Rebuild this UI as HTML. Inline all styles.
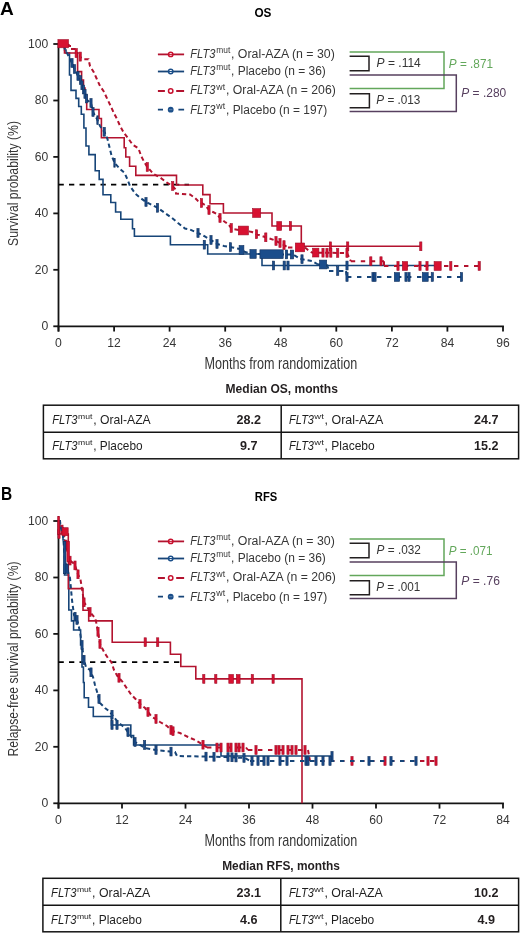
<!DOCTYPE html><html><head><meta charset="utf-8"><style>html,body{margin:0;padding:0;background:#fff;}svg{display:block;will-change:transform;}text{font-family:"Liberation Sans",sans-serif;}</style></head><body>
<svg width="520" height="933" viewBox="0 0 520 933">
<rect width="520" height="933" fill="#fff"/>
<text x="0.0" y="15.4" font-size="17.50" font-weight="bold" fill="#000" textLength="13.8" lengthAdjust="spacingAndGlyphs">A</text>
<text x="254.4" y="17.3" font-size="12.60" font-weight="bold" fill="#000" textLength="17.0" lengthAdjust="spacingAndGlyphs">OS</text>
<g stroke="#141414" stroke-width="1.8" fill="none">
<path d="M58.5,43.1 V331.6"/>
<path d="M57.6,326.3 H503.9"/>
<path d="M53.3,326.3 H58.5"/>
<path d="M53.3,269.8 H58.5"/>
<path d="M53.3,213.4 H58.5"/>
<path d="M53.3,156.9 H58.5"/>
<path d="M53.3,100.5 H58.5"/>
<path d="M53.3,44.0 H58.5"/>
<path d="M58.5,326.3 V331.6"/>
<path d="M114.1,326.3 V331.6"/>
<path d="M169.6,326.3 V331.6"/>
<path d="M225.2,326.3 V331.6"/>
<path d="M280.7,326.3 V331.6"/>
<path d="M336.3,326.3 V331.6"/>
<path d="M391.9,326.3 V331.6"/>
<path d="M447.4,326.3 V331.6"/>
<path d="M503.0,326.3 V331.6"/>
</g>
<text x="48.2" y="330.2" font-size="13.00" text-anchor="end" fill="#363636" textLength="6.8" lengthAdjust="spacingAndGlyphs">0</text>
<text x="48.2" y="273.7" font-size="13.00" text-anchor="end" fill="#363636" textLength="13.5" lengthAdjust="spacingAndGlyphs">20</text>
<text x="48.2" y="217.3" font-size="13.00" text-anchor="end" fill="#363636" textLength="13.5" lengthAdjust="spacingAndGlyphs">40</text>
<text x="48.2" y="160.8" font-size="13.00" text-anchor="end" fill="#363636" textLength="13.5" lengthAdjust="spacingAndGlyphs">60</text>
<text x="48.2" y="104.4" font-size="13.00" text-anchor="end" fill="#363636" textLength="13.5" lengthAdjust="spacingAndGlyphs">80</text>
<text x="48.2" y="47.9" font-size="13.00" text-anchor="end" fill="#363636" textLength="20.2" lengthAdjust="spacingAndGlyphs">100</text>
<text x="58.5" y="347.3" font-size="13.00" text-anchor="middle" fill="#363636" textLength="6.8" lengthAdjust="spacingAndGlyphs">0</text>
<text x="114.1" y="347.3" font-size="13.00" text-anchor="middle" fill="#363636" textLength="13.5" lengthAdjust="spacingAndGlyphs">12</text>
<text x="169.6" y="347.3" font-size="13.00" text-anchor="middle" fill="#363636" textLength="13.5" lengthAdjust="spacingAndGlyphs">24</text>
<text x="225.2" y="347.3" font-size="13.00" text-anchor="middle" fill="#363636" textLength="13.5" lengthAdjust="spacingAndGlyphs">36</text>
<text x="280.7" y="347.3" font-size="13.00" text-anchor="middle" fill="#363636" textLength="13.5" lengthAdjust="spacingAndGlyphs">48</text>
<text x="336.3" y="347.3" font-size="13.00" text-anchor="middle" fill="#363636" textLength="13.5" lengthAdjust="spacingAndGlyphs">60</text>
<text x="391.9" y="347.3" font-size="13.00" text-anchor="middle" fill="#363636" textLength="13.5" lengthAdjust="spacingAndGlyphs">72</text>
<text x="447.4" y="347.3" font-size="13.00" text-anchor="middle" fill="#363636" textLength="13.5" lengthAdjust="spacingAndGlyphs">84</text>
<text x="503.0" y="347.3" font-size="13.00" text-anchor="middle" fill="#363636" textLength="13.5" lengthAdjust="spacingAndGlyphs">96</text>
<text x="204.5" y="368.5" font-size="16.20" fill="#363636" textLength="152.7" lengthAdjust="spacingAndGlyphs">Months from randomization</text>
<text transform="translate(18,183.5) rotate(-90)" x="0" y="0" font-size="15.5" text-anchor="middle" textLength="125.0" lengthAdjust="spacingAndGlyphs" fill="#363636">Survival probability (%)</text>
<path d="M58.5,184.7H189" stroke="#000" stroke-width="1.8" stroke-dasharray="5.3 5.2"/>
<path d="M58.5,44.0H64.5V50.0H66.0V53.0H69.5V75.0H71.0V90.4H76.0V98.4H78.7V106.5H81.3V114.2H83.9V128.0H86.0V146.0H88.9V154.6H95.2V170.8H99.2V179.4H103.0V194.8H110.8V202.5H115.6V212.0H120.8V219.2H132.5V228.8H134.4V236.2H170.4V244.7H207.7V254.0H262.0V265.5H438.0" fill="none" stroke="#174578" stroke-width="1.6"/>
<rect x="203.2" y="240.3" width="2.2" height="8.8" fill="#1b4d8b" stroke="#0f2f5c" stroke-width="0.6"/>
<rect x="272.4" y="261.1" width="2.2" height="8.8" fill="#1b4d8b" stroke="#0f2f5c" stroke-width="0.6"/>
<rect x="283.1" y="261.1" width="2.2" height="8.8" fill="#1b4d8b" stroke="#0f2f5c" stroke-width="0.6"/>
<rect x="286.9" y="261.1" width="2.2" height="8.8" fill="#1b4d8b" stroke="#0f2f5c" stroke-width="0.6"/>
<rect x="345.9" y="261.1" width="2.2" height="8.8" fill="#1b4d8b" stroke="#0f2f5c" stroke-width="0.6"/>
<path d="M58.5,44.0H64.5V53.0H77.6V71.6H81.6V80.0H83.5V88.0H85.0V95.0H86.7V109.5H99.0V118.5H101.4V137.8H124.2V147.7H125.8V157.0H129.6V166.2H135.8V175.4H176.5V185.0H202.8V194.6H210.0V203.8H223.4V213.0H272.0V226.0H301.3V246.3H420.8" fill="none" stroke="#b3132f" stroke-width="1.6"/>
<rect x="252.6" y="208.6" width="8.1" height="8.8" fill="#d81131" stroke="#a00d28" stroke-width="0.6"/>
<rect x="276.8" y="221.6" width="4.9" height="8.8" fill="#d81131" stroke="#a00d28" stroke-width="0.6"/>
<rect x="289.3" y="221.6" width="2.2" height="8.8" fill="#d81131" stroke="#a00d28" stroke-width="0.6"/>
<rect x="329.3" y="241.9" width="2.2" height="8.8" fill="#d81131" stroke="#a00d28" stroke-width="0.6"/>
<rect x="346.6" y="241.9" width="2.2" height="8.8" fill="#d81131" stroke="#a00d28" stroke-width="0.6"/>
<rect x="419.7" y="241.9" width="2.2" height="8.8" fill="#d81131" stroke="#a00d28" stroke-width="0.6"/>
<path d="M58.50,44.00 L64.50,44.00 L64.50,48.00 L68.00,55.00 L72.00,63.00 L74.50,69.00 L78.00,76.00 L80.00,78.00 L81.50,84.00 L83.00,88.00 L85.00,94.00 L87.00,100.00 L91.00,103.00 L93.00,112.00 L97.00,119.00 L100.00,126.00 L104.60,132.30 L107.50,139.00 L109.20,146.00 L111.50,155.40 L114.60,163.00 L120.00,169.00 L124.60,173.00 L127.70,180.00 L130.00,186.00 L135.40,193.80 L139.20,197.00 L146.00,202.00 L152.00,205.00 L158.00,208.00 L165.00,213.00 L172.00,218.00 L178.00,223.00 L185.00,228.50 L190.00,229.50 L198.00,233.00 L204.00,236.00 L211.00,240.00 L217.00,244.00 L224.00,246.00 L230.00,247.00 L240.00,249.00 L245.00,252.00 L252.00,254.00 L293.00,254.50 L300.00,258.80 L312.00,261.00 L318.00,264.50" fill="none" stroke="#174578" stroke-width="2.0" stroke-dasharray="4.3 3"/>
<path d="M318.00,264.50 L327.00,264.50" fill="none" stroke="#174578" stroke-width="2.0" stroke-dasharray="4.4 5.6"/>
<path d="M327.00,264.50 L329.00,271.00" fill="none" stroke="#174578" stroke-width="2.0" stroke-dasharray="4.3 3"/>
<path d="M329.00,271.00 L346.00,271.00" fill="none" stroke="#174578" stroke-width="2.0" stroke-dasharray="4.4 5.6"/>
<path d="M346.00,271.00 L347.00,277.00" fill="none" stroke="#174578" stroke-width="2.0" stroke-dasharray="4.3 3"/>
<path d="M347.00,277.00 L461.50,277.00" fill="none" stroke="#174578" stroke-width="2.0" stroke-dasharray="4.4 5.6"/>
<rect x="70.9" y="58.6" width="2.2" height="8.8" fill="#1b4d8b" stroke="#0f2f5c" stroke-width="0.6"/>
<rect x="73.4" y="64.6" width="2.2" height="8.8" fill="#1b4d8b" stroke="#0f2f5c" stroke-width="0.6"/>
<rect x="76.9" y="71.6" width="2.2" height="8.8" fill="#1b4d8b" stroke="#0f2f5c" stroke-width="0.6"/>
<rect x="79.4" y="75.6" width="2.2" height="8.8" fill="#1b4d8b" stroke="#0f2f5c" stroke-width="0.6"/>
<rect x="80.9" y="80.9" width="2.2" height="8.8" fill="#1b4d8b" stroke="#0f2f5c" stroke-width="0.6"/>
<rect x="82.4" y="85.1" width="2.2" height="8.8" fill="#1b4d8b" stroke="#0f2f5c" stroke-width="0.6"/>
<rect x="83.9" y="89.6" width="2.2" height="8.8" fill="#1b4d8b" stroke="#0f2f5c" stroke-width="0.6"/>
<rect x="85.4" y="94.1" width="2.2" height="8.8" fill="#1b4d8b" stroke="#0f2f5c" stroke-width="0.6"/>
<rect x="89.9" y="98.6" width="2.2" height="8.8" fill="#1b4d8b" stroke="#0f2f5c" stroke-width="0.6"/>
<rect x="91.9" y="107.6" width="2.2" height="8.8" fill="#1b4d8b" stroke="#0f2f5c" stroke-width="0.6"/>
<rect x="96.8" y="115.8" width="1.4" height="8.8" fill="#1b4d8b" stroke="#0f2f5c" stroke-width="0.6"/>
<rect x="103.1" y="127.4" width="2.2" height="8.8" fill="#1b4d8b" stroke="#0f2f5c" stroke-width="0.6"/>
<rect x="113.8" y="158.4" width="1.4" height="8.8" fill="#1b4d8b" stroke="#0f2f5c" stroke-width="0.6"/>
<rect x="144.9" y="197.6" width="2.2" height="8.8" fill="#1b4d8b" stroke="#0f2f5c" stroke-width="0.6"/>
<rect x="156.4" y="203.4" width="2.2" height="8.8" fill="#1b4d8b" stroke="#0f2f5c" stroke-width="0.6"/>
<rect x="196.9" y="228.6" width="2.2" height="8.8" fill="#1b4d8b" stroke="#0f2f5c" stroke-width="0.6"/>
<rect x="209.9" y="235.6" width="2.2" height="8.8" fill="#1b4d8b" stroke="#0f2f5c" stroke-width="0.6"/>
<rect x="215.9" y="239.6" width="2.2" height="8.8" fill="#1b4d8b" stroke="#0f2f5c" stroke-width="0.6"/>
<rect x="229.3" y="242.7" width="2.2" height="8.8" fill="#1b4d8b" stroke="#0f2f5c" stroke-width="0.6"/>
<rect x="239.1" y="245.5" width="4.8" height="8.8" fill="#1b4d8b" stroke="#0f2f5c" stroke-width="0.6"/>
<rect x="249.9" y="249.6" width="6.3" height="8.8" fill="#1b4d8b" stroke="#0f2f5c" stroke-width="0.6"/>
<rect x="259.9" y="249.8" width="23.3" height="8.8" fill="#1b4d8b" stroke="#0f2f5c" stroke-width="0.6"/>
<rect x="285.3" y="250.0" width="2.4" height="8.8" fill="#1b4d8b" stroke="#0f2f5c" stroke-width="0.6"/>
<rect x="290.3" y="250.1" width="3.4" height="8.8" fill="#1b4d8b" stroke="#0f2f5c" stroke-width="0.6"/>
<rect x="300.9" y="254.8" width="2.2" height="8.8" fill="#1b4d8b" stroke="#0f2f5c" stroke-width="0.6"/>
<rect x="319.5" y="260.1" width="7.2" height="8.8" fill="#1b4d8b" stroke="#0f2f5c" stroke-width="0.6"/>
<rect x="336.6" y="266.6" width="2.2" height="8.8" fill="#1b4d8b" stroke="#0f2f5c" stroke-width="0.6"/>
<rect x="345.9" y="272.6" width="2.2" height="8.8" fill="#1b4d8b" stroke="#0f2f5c" stroke-width="0.6"/>
<rect x="371.9" y="272.6" width="2.2" height="8.8" fill="#1b4d8b" stroke="#0f2f5c" stroke-width="0.6"/>
<rect x="373.9" y="272.6" width="2.2" height="8.8" fill="#1b4d8b" stroke="#0f2f5c" stroke-width="0.6"/>
<rect x="394.3" y="272.6" width="5.4" height="8.8" fill="#1b4d8b" stroke="#0f2f5c" stroke-width="0.6"/>
<rect x="404.9" y="272.6" width="2.2" height="8.8" fill="#1b4d8b" stroke="#0f2f5c" stroke-width="0.6"/>
<rect x="407.9" y="272.6" width="2.2" height="8.8" fill="#1b4d8b" stroke="#0f2f5c" stroke-width="0.6"/>
<rect x="422.3" y="272.6" width="5.9" height="8.8" fill="#1b4d8b" stroke="#0f2f5c" stroke-width="0.6"/>
<rect x="431.2" y="272.6" width="2.2" height="8.8" fill="#1b4d8b" stroke="#0f2f5c" stroke-width="0.6"/>
<rect x="460.4" y="272.6" width="2.2" height="8.8" fill="#1b4d8b" stroke="#0f2f5c" stroke-width="0.6"/>
<path d="M58.50,44.00 L68.70,44.00" fill="none" stroke="#b3132f" stroke-width="2.0" stroke-dasharray="4.4 5.6"/>
<path d="M68.70,44.00 L68.70,46.00 L72.00,46.00 L72.00,49.00 L76.00,49.00 L76.00,53.00 L80.00,53.00 L80.00,57.00 L83.80,59.20 L88.50,59.20 L90.00,66.00 L93.80,72.30 L96.60,78.50 L100.00,86.00 L103.80,91.50 L107.40,99.20 L110.80,106.20 L113.80,113.00 L117.00,119.00 L120.20,126.20 L124.00,133.00 L128.00,138.00 L132.50,144.50 L138.50,148.50 L141.20,156.20 L144.20,162.00 L147.30,167.00 L153.50,174.00 L160.40,177.70 L166.50,182.30 L172.70,186.00 L176.00,190.00 L176.00,193.50 L190.00,194.50 L195.00,198.00 L198.00,201.00 L205.00,205.00 L209.00,210.00 L213.00,212.00 L217.00,214.00 L220.00,218.00 L225.00,222.00 L228.00,224.00 L232.00,229.00 L247.00,231.00 L252.00,232.00 L256.00,234.00 L265.00,237.00 L274.00,240.00 L282.00,244.00 L288.00,247.40" fill="none" stroke="#b3132f" stroke-width="2.0" stroke-dasharray="4.3 3"/>
<path d="M288.00,247.40 L305.00,247.40" fill="none" stroke="#b3132f" stroke-width="2.0" stroke-dasharray="4.4 5.6"/>
<path d="M305.00,247.40 L308.00,250.00 L312.00,252.60 L347.00,253.00 L350.80,261.20" fill="none" stroke="#b3132f" stroke-width="2.0" stroke-dasharray="4.3 3"/>
<path d="M350.80,261.20 L384.00,261.20" fill="none" stroke="#b3132f" stroke-width="2.0" stroke-dasharray="4.4 5.6"/>
<path d="M384.00,261.20 L384.00,266.00" fill="none" stroke="#b3132f" stroke-width="2.0" stroke-dasharray="4.3 3"/>
<path d="M384.00,266.00 L479.00,266.00" fill="none" stroke="#b3132f" stroke-width="2.0" stroke-dasharray="4.4 5.6"/>
<rect x="146.2" y="162.6" width="2.2" height="8.8" fill="#d81131" stroke="#a00d28" stroke-width="0.6"/>
<rect x="171.6" y="181.6" width="2.2" height="8.8" fill="#d81131" stroke="#a00d28" stroke-width="0.6"/>
<rect x="200.4" y="198.6" width="2.2" height="8.8" fill="#d81131" stroke="#a00d28" stroke-width="0.6"/>
<rect x="207.9" y="205.6" width="2.2" height="8.8" fill="#d81131" stroke="#a00d28" stroke-width="0.6"/>
<rect x="218.9" y="213.6" width="2.2" height="8.8" fill="#d81131" stroke="#a00d28" stroke-width="0.6"/>
<rect x="230.1" y="223.6" width="2.2" height="8.8" fill="#d81131" stroke="#a00d28" stroke-width="0.6"/>
<rect x="238.3" y="226.1" width="10.2" height="8.8" fill="#d81131" stroke="#a00d28" stroke-width="0.6"/>
<rect x="255.4" y="229.8" width="2.2" height="8.8" fill="#d81131" stroke="#a00d28" stroke-width="0.6"/>
<rect x="264.7" y="232.9" width="2.2" height="8.8" fill="#d81131" stroke="#a00d28" stroke-width="0.6"/>
<rect x="274.9" y="236.6" width="2.2" height="8.8" fill="#d81131" stroke="#a00d28" stroke-width="0.6"/>
<rect x="278.9" y="238.6" width="2.2" height="8.8" fill="#d81131" stroke="#a00d28" stroke-width="0.6"/>
<rect x="282.9" y="240.7" width="2.2" height="8.8" fill="#d81131" stroke="#a00d28" stroke-width="0.6"/>
<rect x="295.3" y="243.0" width="9.4" height="8.8" fill="#d81131" stroke="#a00d28" stroke-width="0.6"/>
<rect x="312.6" y="248.2" width="6.3" height="8.8" fill="#d81131" stroke="#a00d28" stroke-width="0.6"/>
<rect x="321.9" y="248.3" width="2.2" height="8.8" fill="#d81131" stroke="#a00d28" stroke-width="0.6"/>
<rect x="325.9" y="248.4" width="2.2" height="8.8" fill="#d81131" stroke="#a00d28" stroke-width="0.6"/>
<rect x="329.7" y="248.4" width="2.2" height="8.8" fill="#d81131" stroke="#a00d28" stroke-width="0.6"/>
<rect x="336.6" y="248.5" width="2.2" height="8.8" fill="#d81131" stroke="#a00d28" stroke-width="0.6"/>
<rect x="345.9" y="248.6" width="2.2" height="8.8" fill="#d81131" stroke="#a00d28" stroke-width="0.6"/>
<rect x="369.7" y="256.8" width="2.2" height="8.8" fill="#d81131" stroke="#a00d28" stroke-width="0.6"/>
<rect x="379.9" y="256.8" width="2.2" height="8.8" fill="#d81131" stroke="#a00d28" stroke-width="0.6"/>
<rect x="396.9" y="261.6" width="2.2" height="8.8" fill="#d81131" stroke="#a00d28" stroke-width="0.6"/>
<rect x="402.3" y="261.6" width="5.4" height="8.8" fill="#d81131" stroke="#a00d28" stroke-width="0.6"/>
<rect x="418.9" y="261.6" width="2.2" height="8.8" fill="#d81131" stroke="#a00d28" stroke-width="0.6"/>
<rect x="425.9" y="261.6" width="2.2" height="8.8" fill="#d81131" stroke="#a00d28" stroke-width="0.6"/>
<rect x="434.1" y="261.6" width="7.1" height="8.8" fill="#d81131" stroke="#a00d28" stroke-width="0.6"/>
<rect x="449.7" y="261.6" width="2.2" height="8.8" fill="#d81131" stroke="#a00d28" stroke-width="0.6"/>
<rect x="478.1" y="261.6" width="2.2" height="8.8" fill="#d81131" stroke="#a00d28" stroke-width="0.6"/>
<rect x="75.1" y="48.6" width="2.2" height="9" fill="#d81131" stroke="#a00d28" stroke-width="0.6"/>
<rect x="79.1" y="52.1" width="2.2" height="9" fill="#d81131" stroke="#a00d28" stroke-width="0.6"/>
<rect x="57.9" y="39.6" width="10.6" height="8.2" fill="#d81131" stroke="#a00d28" stroke-width="0.6"/>
<path d="M157.9,54.4H184.1" stroke="#b3132f" stroke-width="1.8"/>
<circle cx="170.7" cy="54.4" r="2.2" fill="#fff" stroke="#c8102e" stroke-width="1.5"/>
<path d="M168.3,54.4H173.1" stroke="#c8102e" stroke-width="1"/>
<text x="190.3" y="57.6" font-size="12.30" font-style="italic" fill="#363636" textLength="25.0" lengthAdjust="spacingAndGlyphs">FLT3</text>
<text x="216.3" y="53.0" font-size="8.30" fill="#363636" textLength="14.0" lengthAdjust="spacingAndGlyphs">mut</text>
<text x="231.0" y="57.6" font-size="12.30" fill="#363636" textLength="103.8" lengthAdjust="spacingAndGlyphs">, Oral-AZA (n = 30)</text>
<path d="M157.9,71.5H184.1" stroke="#174578" stroke-width="1.8"/>
<circle cx="170.7" cy="71.5" r="2.2" fill="#fff" stroke="#1b4f8a" stroke-width="1.5"/>
<path d="M168.3,71.5H173.1" stroke="#1b4f8a" stroke-width="1"/>
<text x="190.3" y="74.7" font-size="12.30" font-style="italic" fill="#363636" textLength="25.0" lengthAdjust="spacingAndGlyphs">FLT3</text>
<text x="216.3" y="70.1" font-size="8.30" fill="#363636" textLength="14.0" lengthAdjust="spacingAndGlyphs">mut</text>
<text x="231.0" y="74.7" font-size="12.30" fill="#363636" textLength="94.8" lengthAdjust="spacingAndGlyphs">, Placebo (n = 36)</text>
<path d="M157.9,91.0H164.9M176.2,91.0H184.1" stroke="#b3132f" stroke-width="1.8"/>
<circle cx="170.7" cy="91.0" r="2.2" fill="#fff" stroke="#c8102e" stroke-width="1.5"/>
<text x="190.3" y="94.4" font-size="12.30" font-style="italic" fill="#363636" textLength="25.0" lengthAdjust="spacingAndGlyphs">FLT3</text>
<text x="216.3" y="89.8" font-size="8.30" fill="#363636" textLength="8.8" lengthAdjust="spacingAndGlyphs">wt</text>
<text x="226.0" y="94.4" font-size="12.30" fill="#363636" textLength="109.8" lengthAdjust="spacingAndGlyphs">, Oral-AZA (n = 206)</text>
<path d="M157.9,109.7H163M178.4,109.7H184.1" stroke="#174578" stroke-width="1.8"/>
<circle cx="170.7" cy="109.7" r="2.9" fill="#1b4f8a"/>
<path d="M169,109.7H172.4" stroke="#6d8fb8" stroke-width="0.8"/>
<text x="190.3" y="113.6" font-size="12.30" font-style="italic" fill="#363636" textLength="25.0" lengthAdjust="spacingAndGlyphs">FLT3</text>
<text x="216.3" y="109.0" font-size="8.30" fill="#363636" textLength="8.8" lengthAdjust="spacingAndGlyphs">wt</text>
<text x="226.0" y="113.6" font-size="12.30" fill="#363636" textLength="101.2" lengthAdjust="spacingAndGlyphs">, Placebo (n = 197)</text>
<g fill="none" stroke-width="1.5">
<path d="M349.6,56.3H369V70.8H349.6" stroke="#231f20"/>
<path d="M349.6,93.8H369.4V107.7H349.6" stroke="#231f20"/>
<path d="M349.6,52.0H444V88.5H349.6" stroke="#63a75b"/>
<path d="M349.6,75.0H456.3V111.5H349.6" stroke="#57405f"/>
</g>
<text x="376.6" y="66.5" font-size="11.9" fill="#363636" textLength="44.2" lengthAdjust="spacingAndGlyphs"><tspan font-style="italic">P</tspan> = .114</text>
<text x="376.3" y="103.9" font-size="11.9" fill="#363636" textLength="44.1" lengthAdjust="spacingAndGlyphs"><tspan font-style="italic">P</tspan> = .013</text>
<text x="448.8" y="67.9" font-size="11.9" fill="#63a75b" textLength="44.2" lengthAdjust="spacingAndGlyphs"><tspan font-style="italic">P</tspan> = .871</text>
<text x="461.3" y="97.2" font-size="11.9" fill="#57405f" textLength="44.9" lengthAdjust="spacingAndGlyphs"><tspan font-style="italic">P</tspan> = .280</text>
<text x="225.6" y="393.3" font-size="12.00" font-weight="bold" fill="#231f20" textLength="112.3" lengthAdjust="spacingAndGlyphs">Median OS, months</text>
<g fill="none" stroke="#141414" stroke-width="1.5">
<rect x="43.4" y="405.2" width="475.2" height="53.6"/>
<path d="M43.4,432.2H518.6M281.2,405.2V458.8"/>
</g>
<text x="52.2" y="423.5" font-size="12.20" font-style="italic" fill="#1e1e1e" textLength="25.3" lengthAdjust="spacingAndGlyphs">FLT3</text>
<text x="78.0" y="419.0" font-size="7.80" fill="#1e1e1e" textLength="14.3" lengthAdjust="spacingAndGlyphs">mut</text>
<text x="93.2" y="423.5" font-size="12.20" fill="#1e1e1e" textLength="57.5" lengthAdjust="spacingAndGlyphs">, Oral-AZA</text>
<text x="289.1" y="423.5" font-size="12.20" font-style="italic" fill="#1e1e1e" textLength="24.9" lengthAdjust="spacingAndGlyphs">FLT3</text>
<text x="314.3" y="419.0" font-size="7.80" fill="#1e1e1e" textLength="9.5" lengthAdjust="spacingAndGlyphs">wt</text>
<text x="324.6" y="423.5" font-size="12.20" fill="#1e1e1e" textLength="58.6" lengthAdjust="spacingAndGlyphs">, Oral-AZA</text>
<text x="248.8" y="423.5" font-size="12.60" font-weight="bold" text-anchor="middle" fill="#231f20">28.2</text>
<text x="486.2" y="423.5" font-size="12.60" font-weight="bold" text-anchor="middle" fill="#231f20">24.7</text>
<text x="52.2" y="449.9" font-size="12.20" font-style="italic" fill="#1e1e1e" textLength="25.3" lengthAdjust="spacingAndGlyphs">FLT3</text>
<text x="78.0" y="445.4" font-size="7.80" fill="#1e1e1e" textLength="14.3" lengthAdjust="spacingAndGlyphs">mut</text>
<text x="93.2" y="449.9" font-size="12.20" fill="#1e1e1e" textLength="49.4" lengthAdjust="spacingAndGlyphs">, Placebo</text>
<text x="289.1" y="449.9" font-size="12.20" font-style="italic" fill="#1e1e1e" textLength="24.9" lengthAdjust="spacingAndGlyphs">FLT3</text>
<text x="314.3" y="445.4" font-size="7.80" fill="#1e1e1e" textLength="9.5" lengthAdjust="spacingAndGlyphs">wt</text>
<text x="324.6" y="449.9" font-size="12.20" fill="#1e1e1e" textLength="50.1" lengthAdjust="spacingAndGlyphs">, Placebo</text>
<text x="248.8" y="449.9" font-size="12.60" font-weight="bold" text-anchor="middle" fill="#231f20">9.7</text>
<text x="486.2" y="449.9" font-size="12.60" font-weight="bold" text-anchor="middle" fill="#231f20">15.2</text>
<text x="1.0" y="499.8" font-size="18.50" font-weight="bold" fill="#000" textLength="11.2" lengthAdjust="spacingAndGlyphs">B</text>
<text x="254.8" y="501.3" font-size="12.60" font-weight="bold" fill="#000" textLength="22.4" lengthAdjust="spacingAndGlyphs">RFS</text>
<g stroke="#141414" stroke-width="1.8" fill="none">
<path d="M58.5,520.1 V808.6"/>
<path d="M57.6,803.3 H503.9"/>
<path d="M53.3,803.3 H58.5"/>
<path d="M53.3,746.8 H58.5"/>
<path d="M53.3,690.4 H58.5"/>
<path d="M53.3,633.9 H58.5"/>
<path d="M53.3,577.5 H58.5"/>
<path d="M53.3,521.0 H58.5"/>
<path d="M58.5,803.3 V808.6"/>
<path d="M122.0,803.3 V808.6"/>
<path d="M185.5,803.3 V808.6"/>
<path d="M249.0,803.3 V808.6"/>
<path d="M312.5,803.3 V808.6"/>
<path d="M376.0,803.3 V808.6"/>
<path d="M439.5,803.3 V808.6"/>
<path d="M503.0,803.3 V808.6"/>
</g>
<text x="48.2" y="807.2" font-size="13.00" text-anchor="end" fill="#363636" textLength="6.8" lengthAdjust="spacingAndGlyphs">0</text>
<text x="48.2" y="750.7" font-size="13.00" text-anchor="end" fill="#363636" textLength="13.5" lengthAdjust="spacingAndGlyphs">20</text>
<text x="48.2" y="694.3" font-size="13.00" text-anchor="end" fill="#363636" textLength="13.5" lengthAdjust="spacingAndGlyphs">40</text>
<text x="48.2" y="637.8" font-size="13.00" text-anchor="end" fill="#363636" textLength="13.5" lengthAdjust="spacingAndGlyphs">60</text>
<text x="48.2" y="581.4" font-size="13.00" text-anchor="end" fill="#363636" textLength="13.5" lengthAdjust="spacingAndGlyphs">80</text>
<text x="48.2" y="524.9" font-size="13.00" text-anchor="end" fill="#363636" textLength="20.2" lengthAdjust="spacingAndGlyphs">100</text>
<text x="58.5" y="824.3" font-size="13.00" text-anchor="middle" fill="#363636" textLength="6.8" lengthAdjust="spacingAndGlyphs">0</text>
<text x="122.0" y="824.3" font-size="13.00" text-anchor="middle" fill="#363636" textLength="13.5" lengthAdjust="spacingAndGlyphs">12</text>
<text x="185.5" y="824.3" font-size="13.00" text-anchor="middle" fill="#363636" textLength="13.5" lengthAdjust="spacingAndGlyphs">24</text>
<text x="249.0" y="824.3" font-size="13.00" text-anchor="middle" fill="#363636" textLength="13.5" lengthAdjust="spacingAndGlyphs">36</text>
<text x="312.5" y="824.3" font-size="13.00" text-anchor="middle" fill="#363636" textLength="13.5" lengthAdjust="spacingAndGlyphs">48</text>
<text x="376.0" y="824.3" font-size="13.00" text-anchor="middle" fill="#363636" textLength="13.5" lengthAdjust="spacingAndGlyphs">60</text>
<text x="439.5" y="824.3" font-size="13.00" text-anchor="middle" fill="#363636" textLength="13.5" lengthAdjust="spacingAndGlyphs">72</text>
<text x="503.0" y="824.3" font-size="13.00" text-anchor="middle" fill="#363636" textLength="13.5" lengthAdjust="spacingAndGlyphs">84</text>
<text x="204.5" y="846.0" font-size="16.20" fill="#363636" textLength="152.7" lengthAdjust="spacingAndGlyphs">Months from randomization</text>
<text transform="translate(18,659.0) rotate(-90)" x="0" y="0" font-size="15.5" text-anchor="middle" textLength="195.0" lengthAdjust="spacingAndGlyphs" fill="#363636">Relapse-free survival probability (%)</text>
<path d="M58.5,662.1H180.7" stroke="#000" stroke-width="1.8" stroke-dasharray="5.3 5.2"/>
<path d="M58.5,521.0H60.0V528.0H63.0V540.0H64.5V575.0H68.8V610.0H71.5V620.9H73.6V630.0H80.6V645.0H82.0V667.0H83.4V682.5H84.2V697.8H88.5V707.3H93.3V716.5H111.5V725.0H130.8V735.6H133.6V745.0H221.0V756.0H332.0" fill="none" stroke="#174578" stroke-width="1.6"/>
<rect x="110.9" y="720.6" width="2.2" height="8.8" fill="#1b4d8b" stroke="#0f2f5c" stroke-width="0.6"/>
<rect x="115.9" y="720.6" width="2.2" height="8.8" fill="#1b4d8b" stroke="#0f2f5c" stroke-width="0.6"/>
<rect x="143.5" y="740.6" width="2.2" height="8.8" fill="#1b4d8b" stroke="#0f2f5c" stroke-width="0.6"/>
<rect x="330.9" y="751.6" width="2.2" height="8.8" fill="#1b4d8b" stroke="#0f2f5c" stroke-width="0.6"/>
<path d="M58.5,521.0H58.8V534.0H68.3V588.6H83.0V610.2H88.7V620.9H112.2V642.2H170.4V654.3H180.8V666.5H195.8V678.9H302.0V803.3" fill="none" stroke="#b3132f" stroke-width="1.6"/>
<rect x="57.9" y="529.6" width="2.2" height="8.8" fill="#d81131" stroke="#a00d28" stroke-width="0.6"/>
<rect x="144.1" y="637.8" width="2.2" height="8.8" fill="#d81131" stroke="#a00d28" stroke-width="0.6"/>
<rect x="156.6" y="637.8" width="2.2" height="8.8" fill="#d81131" stroke="#a00d28" stroke-width="0.6"/>
<rect x="202.7" y="674.5" width="2.2" height="8.8" fill="#d81131" stroke="#a00d28" stroke-width="0.6"/>
<rect x="214.7" y="674.5" width="2.2" height="8.8" fill="#d81131" stroke="#a00d28" stroke-width="0.6"/>
<rect x="228.8" y="674.5" width="4.7" height="8.8" fill="#d81131" stroke="#a00d28" stroke-width="0.6"/>
<rect x="236.3" y="674.5" width="3.8" height="8.8" fill="#d81131" stroke="#a00d28" stroke-width="0.6"/>
<rect x="251.2" y="674.5" width="2.2" height="8.8" fill="#d81131" stroke="#a00d28" stroke-width="0.6"/>
<rect x="272.0" y="674.5" width="2.2" height="8.8" fill="#d81131" stroke="#a00d28" stroke-width="0.6"/>
<path d="M58.50,521.00 L60.00,521.00 L60.00,527.00 L63.10,530.80 L66.50,546.90 L68.80,559.60 L74.60,564.20 L78.10,574.60 L80.40,579.00 L82.70,593.00 L83.80,602.00 L87.30,607.00 L89.60,611.50 L95.40,618.50 L97.70,630.00 L100.00,644.00 L104.60,653.00 L108.00,658.00 L111.50,662.30 L114.00,670.00 L117.30,676.00 L121.90,681.00 L128.00,690.00 L131.20,694.60 L135.80,699.20 L140.00,704.00 L145.00,708.00 L148.00,712.00 L152.00,717.00 L156.00,719.00 L160.00,722.00 L167.00,726.00 L172.00,731.00 L180.00,733.00 L188.00,737.00 L195.00,740.00 L202.00,744.00 L207.00,747.50" fill="none" stroke="#b3132f" stroke-width="2.0" stroke-dasharray="4.3 3"/>
<path d="M207.00,747.50 L246.00,747.50" fill="none" stroke="#b3132f" stroke-width="2.0" stroke-dasharray="4.4 5.6"/>
<path d="M246.00,747.50 L248.00,750.00" fill="none" stroke="#b3132f" stroke-width="2.0" stroke-dasharray="4.3 3"/>
<path d="M248.00,750.00 L308.00,750.00" fill="none" stroke="#b3132f" stroke-width="2.0" stroke-dasharray="4.4 5.6"/>
<path d="M308.00,750.00 L310.00,761.00" fill="none" stroke="#b3132f" stroke-width="2.0" stroke-dasharray="4.3 3"/>
<path d="M310.00,761.00 L436.00,761.00" fill="none" stroke="#b3132f" stroke-width="2.0" stroke-dasharray="4.4 5.6"/>
<rect x="60.9" y="525.1" width="2.2" height="8.8" fill="#d81131" stroke="#a00d28" stroke-width="0.6"/>
<rect x="64.9" y="540.1" width="2.2" height="8.8" fill="#d81131" stroke="#a00d28" stroke-width="0.6"/>
<rect x="68.9" y="556.2" width="2.2" height="8.8" fill="#d81131" stroke="#a00d28" stroke-width="0.6"/>
<rect x="73.9" y="561.0" width="2.2" height="8.8" fill="#d81131" stroke="#a00d28" stroke-width="0.6"/>
<rect x="76.9" y="569.9" width="2.2" height="8.8" fill="#d81131" stroke="#a00d28" stroke-width="0.6"/>
<rect x="82.9" y="597.9" width="2.2" height="8.8" fill="#d81131" stroke="#a00d28" stroke-width="0.6"/>
<rect x="88.9" y="607.6" width="2.2" height="8.8" fill="#d81131" stroke="#a00d28" stroke-width="0.6"/>
<rect x="96.9" y="627.4" width="2.2" height="8.8" fill="#d81131" stroke="#a00d28" stroke-width="0.6"/>
<rect x="98.9" y="639.6" width="2.2" height="8.8" fill="#d81131" stroke="#a00d28" stroke-width="0.6"/>
<rect x="117.9" y="673.4" width="2.2" height="8.8" fill="#d81131" stroke="#a00d28" stroke-width="0.6"/>
<rect x="138.9" y="699.6" width="2.2" height="8.8" fill="#d81131" stroke="#a00d28" stroke-width="0.6"/>
<rect x="146.9" y="707.6" width="2.2" height="8.8" fill="#d81131" stroke="#a00d28" stroke-width="0.6"/>
<rect x="154.9" y="714.6" width="2.2" height="8.8" fill="#d81131" stroke="#a00d28" stroke-width="0.6"/>
<rect x="169.9" y="725.6" width="2.2" height="8.8" fill="#d81131" stroke="#a00d28" stroke-width="0.6"/>
<rect x="171.9" y="726.8" width="2.2" height="8.8" fill="#d81131" stroke="#a00d28" stroke-width="0.6"/>
<rect x="201.9" y="740.3" width="2.2" height="8.8" fill="#d81131" stroke="#a00d28" stroke-width="0.6"/>
<rect x="215.9" y="743.1" width="2.2" height="8.8" fill="#d81131" stroke="#a00d28" stroke-width="0.6"/>
<rect x="219.9" y="743.1" width="2.2" height="8.8" fill="#d81131" stroke="#a00d28" stroke-width="0.6"/>
<rect x="226.9" y="743.1" width="2.2" height="8.8" fill="#d81131" stroke="#a00d28" stroke-width="0.6"/>
<rect x="229.9" y="743.1" width="2.2" height="8.8" fill="#d81131" stroke="#a00d28" stroke-width="0.6"/>
<rect x="234.9" y="743.1" width="2.2" height="8.8" fill="#d81131" stroke="#a00d28" stroke-width="0.6"/>
<rect x="237.9" y="743.1" width="2.2" height="8.8" fill="#d81131" stroke="#a00d28" stroke-width="0.6"/>
<rect x="241.9" y="743.1" width="2.2" height="8.8" fill="#d81131" stroke="#a00d28" stroke-width="0.6"/>
<rect x="254.9" y="745.6" width="2.2" height="8.8" fill="#d81131" stroke="#a00d28" stroke-width="0.6"/>
<rect x="274.9" y="745.6" width="2.2" height="8.8" fill="#d81131" stroke="#a00d28" stroke-width="0.6"/>
<rect x="277.9" y="745.6" width="2.2" height="8.8" fill="#d81131" stroke="#a00d28" stroke-width="0.6"/>
<rect x="281.9" y="745.6" width="2.2" height="8.8" fill="#d81131" stroke="#a00d28" stroke-width="0.6"/>
<rect x="286.9" y="745.6" width="2.2" height="8.8" fill="#d81131" stroke="#a00d28" stroke-width="0.6"/>
<rect x="290.9" y="745.6" width="2.2" height="8.8" fill="#d81131" stroke="#a00d28" stroke-width="0.6"/>
<rect x="294.9" y="745.6" width="2.2" height="8.8" fill="#d81131" stroke="#a00d28" stroke-width="0.6"/>
<rect x="303.9" y="745.6" width="2.2" height="8.8" fill="#d81131" stroke="#a00d28" stroke-width="0.6"/>
<rect x="350.9" y="756.6" width="2.2" height="8.8" fill="#d81131" stroke="#a00d28" stroke-width="0.6"/>
<rect x="383.9" y="756.6" width="2.2" height="8.8" fill="#d81131" stroke="#a00d28" stroke-width="0.6"/>
<rect x="426.9" y="756.6" width="2.2" height="8.8" fill="#d81131" stroke="#a00d28" stroke-width="0.6"/>
<rect x="434.9" y="756.6" width="2.2" height="8.8" fill="#d81131" stroke="#a00d28" stroke-width="0.6"/>
<path d="M58.50,521.00 L60.00,521.00 L61.00,528.00 L63.00,535.00 L64.00,548.00 L65.00,560.00 L66.00,565.00 L70.00,578.00 L72.00,600.00 L74.00,615.00 L77.00,620.00 L78.50,625.00 L80.00,632.00 L82.00,645.00 L84.00,660.00 L86.00,667.00 L90.00,670.00 L93.00,677.00 L95.00,685.00 L98.00,695.00 L100.00,703.00 L105.00,708.00 L110.00,712.00 L113.00,716.00 L118.00,722.00 L125.00,728.00 L130.00,735.00 L135.00,742.00 L145.00,748.00 L156.00,750.00 L175.00,752.00 L177.00,756.00 L225.00,757.00 L245.00,758.00 L250.00,761.00" fill="none" stroke="#174578" stroke-width="2.0" stroke-dasharray="4.3 3"/>
<path d="M250.00,761.00 L416.00,761.00" fill="none" stroke="#174578" stroke-width="2.0" stroke-dasharray="4.4 5.6"/>
<rect x="73.9" y="612.3" width="2.2" height="8.8" fill="#1b4d8b" stroke="#0f2f5c" stroke-width="0.6"/>
<rect x="75.9" y="615.6" width="2.2" height="8.8" fill="#1b4d8b" stroke="#0f2f5c" stroke-width="0.6"/>
<rect x="80.9" y="640.6" width="2.2" height="8.8" fill="#1b4d8b" stroke="#0f2f5c" stroke-width="0.6"/>
<rect x="82.9" y="655.6" width="2.2" height="8.8" fill="#1b4d8b" stroke="#0f2f5c" stroke-width="0.6"/>
<rect x="89.9" y="667.9" width="2.2" height="8.8" fill="#1b4d8b" stroke="#0f2f5c" stroke-width="0.6"/>
<rect x="97.9" y="694.6" width="2.2" height="8.8" fill="#1b4d8b" stroke="#0f2f5c" stroke-width="0.6"/>
<rect x="110.9" y="710.3" width="2.2" height="8.8" fill="#1b4d8b" stroke="#0f2f5c" stroke-width="0.6"/>
<rect x="126.9" y="727.8" width="2.2" height="8.8" fill="#1b4d8b" stroke="#0f2f5c" stroke-width="0.6"/>
<rect x="133.9" y="737.6" width="2.2" height="8.8" fill="#1b4d8b" stroke="#0f2f5c" stroke-width="0.6"/>
<rect x="154.9" y="745.6" width="2.2" height="8.8" fill="#1b4d8b" stroke="#0f2f5c" stroke-width="0.6"/>
<rect x="169.9" y="747.2" width="2.2" height="8.8" fill="#1b4d8b" stroke="#0f2f5c" stroke-width="0.6"/>
<rect x="204.9" y="752.2" width="2.2" height="8.8" fill="#1b4d8b" stroke="#0f2f5c" stroke-width="0.6"/>
<rect x="212.9" y="752.4" width="2.2" height="8.8" fill="#1b4d8b" stroke="#0f2f5c" stroke-width="0.6"/>
<rect x="226.9" y="752.7" width="2.2" height="8.8" fill="#1b4d8b" stroke="#0f2f5c" stroke-width="0.6"/>
<rect x="230.9" y="752.9" width="2.2" height="8.8" fill="#1b4d8b" stroke="#0f2f5c" stroke-width="0.6"/>
<rect x="234.9" y="753.1" width="2.2" height="8.8" fill="#1b4d8b" stroke="#0f2f5c" stroke-width="0.6"/>
<rect x="242.9" y="753.5" width="2.2" height="8.8" fill="#1b4d8b" stroke="#0f2f5c" stroke-width="0.6"/>
<rect x="250.9" y="756.6" width="2.2" height="8.8" fill="#1b4d8b" stroke="#0f2f5c" stroke-width="0.6"/>
<rect x="256.9" y="756.6" width="2.2" height="8.8" fill="#1b4d8b" stroke="#0f2f5c" stroke-width="0.6"/>
<rect x="262.9" y="756.6" width="2.2" height="8.8" fill="#1b4d8b" stroke="#0f2f5c" stroke-width="0.6"/>
<rect x="266.9" y="756.6" width="2.2" height="8.8" fill="#1b4d8b" stroke="#0f2f5c" stroke-width="0.6"/>
<rect x="278.9" y="756.6" width="2.2" height="8.8" fill="#1b4d8b" stroke="#0f2f5c" stroke-width="0.6"/>
<rect x="285.9" y="756.6" width="2.2" height="8.8" fill="#1b4d8b" stroke="#0f2f5c" stroke-width="0.6"/>
<rect x="304.9" y="756.6" width="2.2" height="8.8" fill="#1b4d8b" stroke="#0f2f5c" stroke-width="0.6"/>
<rect x="306.9" y="756.6" width="2.2" height="8.8" fill="#1b4d8b" stroke="#0f2f5c" stroke-width="0.6"/>
<rect x="314.9" y="756.6" width="2.2" height="8.8" fill="#1b4d8b" stroke="#0f2f5c" stroke-width="0.6"/>
<rect x="321.9" y="756.6" width="2.2" height="8.8" fill="#1b4d8b" stroke="#0f2f5c" stroke-width="0.6"/>
<rect x="328.9" y="756.6" width="2.2" height="8.8" fill="#1b4d8b" stroke="#0f2f5c" stroke-width="0.6"/>
<rect x="367.9" y="756.6" width="2.2" height="8.8" fill="#1b4d8b" stroke="#0f2f5c" stroke-width="0.6"/>
<rect x="389.9" y="756.6" width="2.2" height="8.8" fill="#1b4d8b" stroke="#0f2f5c" stroke-width="0.6"/>
<rect x="414.9" y="756.6" width="2.2" height="8.8" fill="#1b4d8b" stroke="#0f2f5c" stroke-width="0.6"/>
<rect x="64.0" y="564.3" width="4.2" height="9.1" fill="#1b4d8b" stroke="#0f2f5c" stroke-width="0.6"/>
<rect x="63.5" y="541.3" width="2.4" height="32.4" fill="#1b4d8b" stroke="#0f2f5c" stroke-width="0.6"/>
<rect x="66.9" y="541.3" width="2.6" height="20.4" fill="#d81131" stroke="#a00d28" stroke-width="0.6"/>
<rect x="57.7" y="516.3" width="1.9" height="18.4" fill="#d81131" stroke="#a00d28" stroke-width="0.6"/>
<rect x="62.0" y="527.7" width="6.2" height="8.0" fill="#d81131" stroke="#a00d28" stroke-width="0.6"/>
<path d="M157.9,541.4H184.1" stroke="#b3132f" stroke-width="1.8"/>
<circle cx="170.7" cy="541.4" r="2.2" fill="#fff" stroke="#c8102e" stroke-width="1.5"/>
<path d="M168.3,541.4H173.1" stroke="#c8102e" stroke-width="1"/>
<text x="190.3" y="544.6" font-size="12.30" font-style="italic" fill="#363636" textLength="25.0" lengthAdjust="spacingAndGlyphs">FLT3</text>
<text x="216.3" y="540.0" font-size="8.30" fill="#363636" textLength="14.0" lengthAdjust="spacingAndGlyphs">mut</text>
<text x="231.0" y="544.6" font-size="12.30" fill="#363636" textLength="103.8" lengthAdjust="spacingAndGlyphs">, Oral-AZA (n = 30)</text>
<path d="M157.9,558.5H184.1" stroke="#174578" stroke-width="1.8"/>
<circle cx="170.7" cy="558.5" r="2.2" fill="#fff" stroke="#1b4f8a" stroke-width="1.5"/>
<path d="M168.3,558.5H173.1" stroke="#1b4f8a" stroke-width="1"/>
<text x="190.3" y="561.7" font-size="12.30" font-style="italic" fill="#363636" textLength="25.0" lengthAdjust="spacingAndGlyphs">FLT3</text>
<text x="216.3" y="557.1" font-size="8.30" fill="#363636" textLength="14.0" lengthAdjust="spacingAndGlyphs">mut</text>
<text x="231.0" y="561.7" font-size="12.30" fill="#363636" textLength="94.8" lengthAdjust="spacingAndGlyphs">, Placebo (n = 36)</text>
<path d="M157.9,578.0H164.9M176.2,578.0H184.1" stroke="#b3132f" stroke-width="1.8"/>
<circle cx="170.7" cy="578.0" r="2.2" fill="#fff" stroke="#c8102e" stroke-width="1.5"/>
<text x="190.3" y="581.4" font-size="12.30" font-style="italic" fill="#363636" textLength="25.0" lengthAdjust="spacingAndGlyphs">FLT3</text>
<text x="216.3" y="576.8" font-size="8.30" fill="#363636" textLength="8.8" lengthAdjust="spacingAndGlyphs">wt</text>
<text x="226.0" y="581.4" font-size="12.30" fill="#363636" textLength="109.8" lengthAdjust="spacingAndGlyphs">, Oral-AZA (n = 206)</text>
<path d="M157.9,596.7H163M178.4,596.7H184.1" stroke="#174578" stroke-width="1.8"/>
<circle cx="170.7" cy="596.7" r="2.9" fill="#1b4f8a"/>
<path d="M169,596.7H172.4" stroke="#6d8fb8" stroke-width="0.8"/>
<text x="190.3" y="600.6" font-size="12.30" font-style="italic" fill="#363636" textLength="25.0" lengthAdjust="spacingAndGlyphs">FLT3</text>
<text x="216.3" y="596.0" font-size="8.30" fill="#363636" textLength="8.8" lengthAdjust="spacingAndGlyphs">wt</text>
<text x="226.0" y="600.6" font-size="12.30" fill="#363636" textLength="101.2" lengthAdjust="spacingAndGlyphs">, Placebo (n = 197)</text>
<g fill="none" stroke-width="1.5">
<path d="M349.6,543.3H369V557.8H349.6" stroke="#231f20"/>
<path d="M349.6,580.8H369.4V594.7H349.6" stroke="#231f20"/>
<path d="M349.6,539.0H444V575.5H349.6" stroke="#63a75b"/>
<path d="M349.6,562.0H456.3V598.5H349.6" stroke="#57405f"/>
</g>
<text x="376.6" y="553.5" font-size="11.9" fill="#363636" textLength="44.3" lengthAdjust="spacingAndGlyphs"><tspan font-style="italic">P</tspan> = .032</text>
<text x="376.3" y="590.9" font-size="11.9" fill="#363636" textLength="44.0" lengthAdjust="spacingAndGlyphs"><tspan font-style="italic">P</tspan> = .001</text>
<text x="448.8" y="554.9" font-size="11.9" fill="#63a75b" textLength="43.8" lengthAdjust="spacingAndGlyphs"><tspan font-style="italic">P</tspan> = .071</text>
<text x="461.3" y="585.1" font-size="11.9" fill="#57405f" textLength="38.6" lengthAdjust="spacingAndGlyphs"><tspan font-style="italic">P</tspan> = .76</text>
<text x="222.2" y="870.0" font-size="12.00" font-weight="bold" fill="#231f20" textLength="117.8" lengthAdjust="spacingAndGlyphs">Median RFS, months</text>
<g fill="none" stroke="#141414" stroke-width="1.5">
<rect x="42.9" y="878.3" width="475.7" height="53.5"/>
<path d="M42.9,905.3H518.6M280.8,878.3V931.8"/>
</g>
<text x="51.1" y="896.6" font-size="12.20" font-style="italic" fill="#1e1e1e" textLength="25.3" lengthAdjust="spacingAndGlyphs">FLT3</text>
<text x="76.9" y="892.1" font-size="7.80" fill="#1e1e1e" textLength="14.3" lengthAdjust="spacingAndGlyphs">mut</text>
<text x="92.1" y="896.6" font-size="12.20" fill="#1e1e1e" textLength="58.2" lengthAdjust="spacingAndGlyphs">, Oral-AZA</text>
<text x="288.9" y="896.6" font-size="12.20" font-style="italic" fill="#1e1e1e" textLength="24.9" lengthAdjust="spacingAndGlyphs">FLT3</text>
<text x="314.1" y="892.1" font-size="7.80" fill="#1e1e1e" textLength="9.5" lengthAdjust="spacingAndGlyphs">wt</text>
<text x="324.4" y="896.6" font-size="12.20" fill="#1e1e1e" textLength="58.5" lengthAdjust="spacingAndGlyphs">, Oral-AZA</text>
<text x="248.8" y="896.6" font-size="12.60" font-weight="bold" text-anchor="middle" fill="#231f20">23.1</text>
<text x="486.2" y="896.6" font-size="12.60" font-weight="bold" text-anchor="middle" fill="#231f20">10.2</text>
<text x="51.1" y="923.6" font-size="12.20" font-style="italic" fill="#1e1e1e" textLength="25.3" lengthAdjust="spacingAndGlyphs">FLT3</text>
<text x="76.9" y="919.1" font-size="7.80" fill="#1e1e1e" textLength="14.3" lengthAdjust="spacingAndGlyphs">mut</text>
<text x="92.1" y="923.6" font-size="12.20" fill="#1e1e1e" textLength="49.7" lengthAdjust="spacingAndGlyphs">, Placebo</text>
<text x="288.9" y="923.6" font-size="12.20" font-style="italic" fill="#1e1e1e" textLength="24.9" lengthAdjust="spacingAndGlyphs">FLT3</text>
<text x="314.1" y="919.1" font-size="7.80" fill="#1e1e1e" textLength="9.5" lengthAdjust="spacingAndGlyphs">wt</text>
<text x="324.4" y="923.6" font-size="12.20" fill="#1e1e1e" textLength="49.9" lengthAdjust="spacingAndGlyphs">, Placebo</text>
<text x="248.8" y="923.6" font-size="12.60" font-weight="bold" text-anchor="middle" fill="#231f20">4.6</text>
<text x="486.2" y="923.6" font-size="12.60" font-weight="bold" text-anchor="middle" fill="#231f20">4.9</text>
</svg></body></html>
